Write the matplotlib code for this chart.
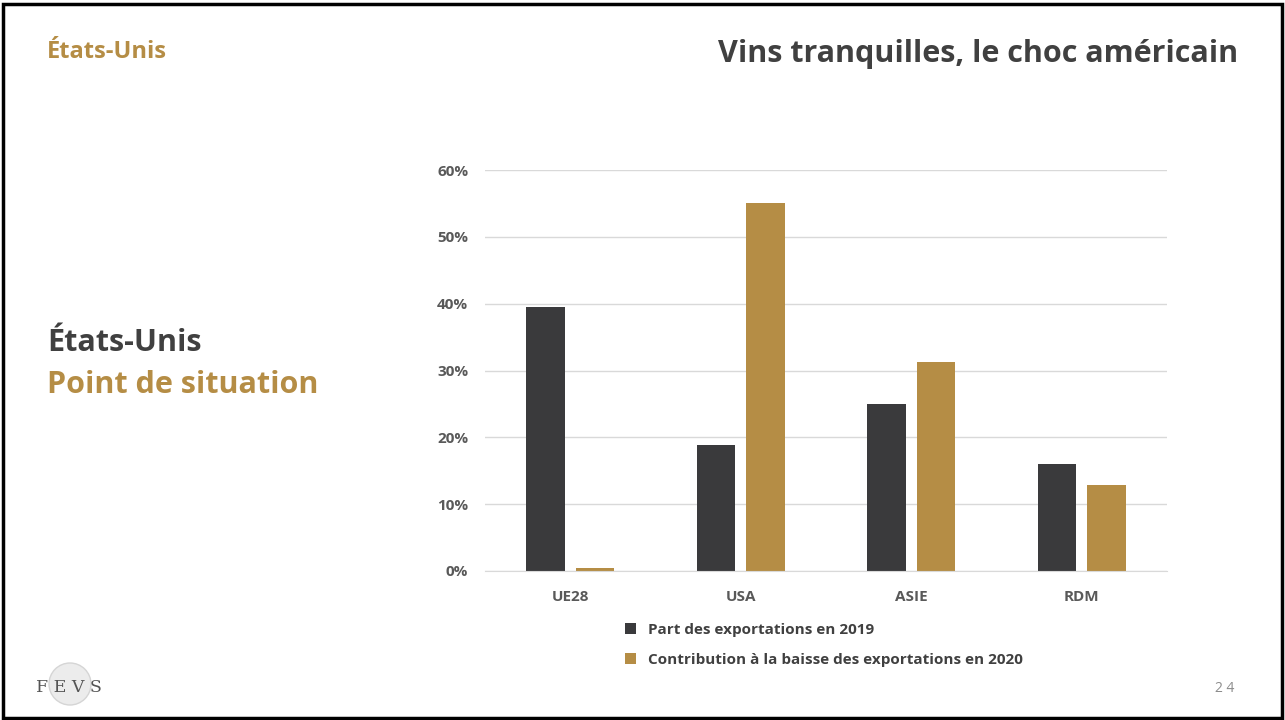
import matplotlib.pyplot as plt
import matplotlib.patches as patches
import numpy as np

# Data
regions = ['UE28', 'USA', 'ASIE', 'RDM']
part_2019 = [39.5, 18.9, 25.0, 16.0]
contrib_2020 = [0.4, 55.1, 31.3, 12.9]
yticks = [0, 10, 20, 30, 40, 50, 60]

dark = '#3a3a3c'
gold = '#b58d45'
text_dark = '#404040'
grey = '#595959'

plt.rcParams['font.family'] = ['Open Sans', 'DejaVu Sans']

fig = plt.figure(figsize=(12.85, 7.2), dpi=100)
W, H = 1285, 720

# slide border
fig.patches.append(patches.Rectangle((3 / W, 2 / H), 1279 / W, 714 / H, transform=fig.transFigure,
                                     fill=False, edgecolor='black', linewidth=2.5))

# axes placed to match the slide (pixels -> fraction)
ax = fig.add_axes([485 / W, 1 - 571 / H, (1167 - 485) / W, (571 - 170) / H])

x = np.arange(len(regions))
w = 0.226
off = 0.145
ax.bar(x - off, part_2019, w, color=dark, label='Part des exportations en 2019', zorder=3)
ax.bar(x + off, contrib_2020, w, color=gold, label='Contribution à la baisse des exportations en 2020', zorder=3)

ax.set_xlim(-0.5, 3.5)
ax.set_ylim(0, 60)
ax.set_yticks(yticks)
ax.set_yticklabels([f'{t}%' for t in yticks])
ax.set_xticks(x)
ax.set_xticklabels(regions)
ax.yaxis.grid(True, color='#d9d9d9', linewidth=1, zorder=0)
ax.tick_params(length=0, labelsize=11, labelcolor=grey, pad=12)
ax.tick_params(axis='x', pad=14)
for lbl in ax.get_xticklabels() + ax.get_yticklabels():
    lbl.set_fontweight('bold')
for s in ['top', 'right', 'left']:
    ax.spines[s].set_visible(False)
ax.spines['bottom'].set_color('#d9d9d9')
ax.spines['bottom'].set_zorder(4)

leg = fig.legend(loc='upper left', bbox_to_anchor=(611 / W, 1 - 609 / H), frameon=False,
                 handlelength=0.75, handleheight=0.75, handletextpad=0.75, labelspacing=1.05,
                 prop={'size': 11, 'weight': 'bold'})
for t in leg.get_texts():
    t.set_color(text_dark)

# slide texts
fig.text(47 / W, 1 - 52 / H, 'États-Unis', color=gold, fontsize=17, fontweight='bold', va='center')
fig.text(1238 / W, 1 - 54 / H, 'Vins tranquilles, le choc américain', color=text_dark,
         fontsize=22, fontweight='bold', ha='right', va='center')
fig.text(47 / W, 1 - 343 / H, 'États-Unis', color=text_dark, fontsize=22, fontweight='bold', va='center')
fig.text(47 / W, 1 - 385 / H, 'Point de situation', color=gold, fontsize=22, fontweight='bold', va='center')
fig.text(1225 / W, 1 - 688 / H, '2 4', color='#8c8c8c', fontsize=10, ha='center', va='center')

# FEVS logo
fig.patches.append(patches.Ellipse((70 / W, 1 - 684 / H), 42 / W, 42 / H, transform=fig.transFigure,
                                   facecolor='#ececec', edgecolor='#d5d5d5', linewidth=1))
fig.text(69 / W, 1 - 688 / H, 'F E V S', color='#555555', fontsize=12.5, family='DejaVu Serif',
         ha='center', va='center')

fig.savefig('out.png', dpi=100, facecolor='white')
